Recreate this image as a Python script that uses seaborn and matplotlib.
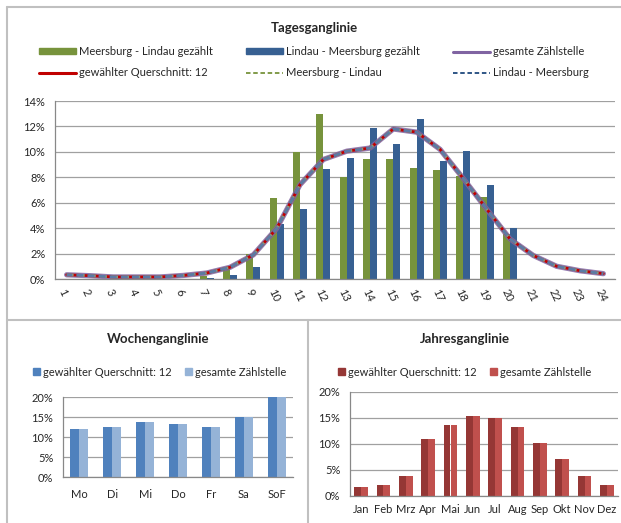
import numpy as np
import pandas as pd
import matplotlib
matplotlib.use("Agg")
import matplotlib.pyplot as plt
import seaborn as sns
from matplotlib.lines import Line2D
from matplotlib.patches import Patch

# ---------------- data ----------------
hours = [str(h) for h in range(1, 25)]
nan = np.nan
ml_counted = [nan] * 6 + [0.2, 0.87, 2.0, 6.36, 10.0, 12.95, 8.0, 9.45, 9.45,
                          8.71, 8.55, 8.08, 6.47, 3.55] + [nan] * 4
lm_counted = [nan] * 6 + [0.1, 0.34, 0.95, 4.36, 5.49, 8.63, 9.5, 11.9, 10.58,
                          12.55, 9.29, 10.03, 7.37, 4.0] + [nan] * 4
total_station = [0.33, 0.26, 0.16, 0.16, 0.16, 0.28, 0.47, 0.92, 1.9, 3.97,
                 7.42, 9.4, 10.05, 10.3, 11.8, 11.55, 10.2, 7.9, 5.5, 3.15,
                 1.85, 1.0, 0.65, 0.42]
selected_section = [0.33, 0.26, 0.16, 0.16, 0.16, 0.28, 0.47, 0.92, 1.9, 3.97,
                    7.42, 9.4, 10.05, 10.3, 11.8, 11.55, 10.2, 7.9, 5.5, 3.15,
                    1.85, 1.0, 0.65, 0.42]
ml_line = [0.33, 0.26, 0.16, 0.16, 0.16, 0.28, 0.47, 0.92, 1.9, 3.97,
           7.42, 9.4, 10.05, 10.3, 11.8, 11.55, 10.2, 7.9, 5.5, 3.15,
           1.85, 1.0, 0.65, 0.42]
lm_line = [0.33, 0.26, 0.16, 0.16, 0.16, 0.28, 0.47, 0.92, 1.9, 3.97,
           7.42, 9.4, 10.05, 10.3, 11.8, 11.55, 10.2, 7.9, 5.5, 3.15,
           1.85, 1.0, 0.65, 0.42]

weekdays = ["Mo", "Di", "Mi", "Do", "Fr", "Sa", "SoF"]
week_section = [11.9, 12.4, 13.8, 13.3, 12.4, 15.1, 20.2]
week_station = [11.9, 12.4, 13.8, 13.3, 12.4, 15.1, 20.2]

months = ["Jan", "Feb", "Mrz", "Apr", "Mai", "Jun", "Jul", "Aug", "Sep",
          "Okt", "Nov", "Dez"]
year_section = [1.7, 2.1, 3.9, 10.9, 13.6, 15.3, 15.0, 13.3, 10.2, 7.2, 3.9, 2.1]
year_station = [1.7, 2.1, 3.9, 10.9, 13.6, 15.3, 15.0, 13.3, 10.2, 7.2, 3.9, 2.1]

# ---------------- style ----------------
sns.set_theme(style="white")
plt.rcParams["font.family"] = ["Lato", "DejaVu Sans"]
plt.rcParams["font.size"] = 8

GREEN = "#77933c"
BLUE = "#376092"
PURPLE = "#8064a2"
RED = "#c00000"
GRID = "#a0a0a0"
FRAME = "#c0c0c0"

W, H = 621, 523
fig = plt.figure(figsize=(W / 100, H / 100), dpi=100)


def box(l, t, r, b):
    return [l / W, 1 - b / H, (r - l) / W, (b - t) / H]


def style_axis(ax, n, ymax, step, label_size=8):
    ax.set_xlim(-0.5, n - 0.5)
    ax.set_ylim(0, ymax)
    yt = np.arange(0, ymax + 0.01, step)
    ax.set_yticks(yt)
    ax.set_yticklabels([f"{v:.0f}%" for v in yt], fontsize=label_size)
    ax.yaxis.grid(True, color=GRID, lw=0.9)
    ax.set_axisbelow(True)
    for s in ["top", "right"]:
        ax.spines[s].set_visible(False)
    for s in ["left", "bottom"]:
        ax.spines[s].set_color("#888888")
        ax.spines[s].set_linewidth(0.9)
    ax.set_xticks(np.arange(n))
    ax.set_xticks(np.arange(-0.5, n, 1), minor=True)
    ax.tick_params(axis="x", which="major", length=0, pad=4)
    ax.tick_params(axis="x", which="minor", length=4, color="#888888", width=0.8)
    ax.tick_params(axis="y", length=4, color="#888888", width=0.8, pad=3)
    ax.set_xlabel("")
    ax.set_ylabel("")


bar_kw = dict(saturation=1, errorbar=None, legend=False, linewidth=0,
              edgecolor="none")

# ---------------- Tagesganglinie ----------------
ax1 = fig.add_axes(box(55, 101, 615, 279))
bars_day = pd.DataFrame({
    "Stunde": hours * 2,
    "Reihe": ["Meersburg - Lindau gezählt"] * 24 + ["Lindau - Meersburg gezählt"] * 24,
    "Anteil": ml_counted + lm_counted,
}).dropna()
sns.barplot(data=bars_day, x="Stunde", y="Anteil", hue="Reihe", order=hours,
            hue_order=["Meersburg - Lindau gezählt", "Lindau - Meersburg gezählt"],
            palette=[GREEN, BLUE], width=0.6, ax=ax1, **bar_kw)
pos = np.arange(len(hours))
sns.lineplot(x=pos, y=total_station, color=PURPLE, lw=3.8, alpha=0.85, ax=ax1)
sns.lineplot(x=pos, y=selected_section, color=RED, lw=2.0, ax=ax1)
sns.lineplot(x=pos, y=ml_line, color="#8a9a7a", lw=2.0, ax=ax1,
             linestyle=(0, (2.5, 1.5)))
sns.lineplot(x=pos, y=lm_line, color="#5b7aa5", lw=2.0, ax=ax1,
             linestyle=(0.5, (2.5, 1.5)))
style_axis(ax1, 24, 14, 2)
ax1.set_xticklabels(hours, rotation=-65, fontsize=8, ha="left", va="top",
                    rotation_mode="anchor")
ax1.tick_params(axis="x", which="major", pad=6)

fig.text(314 / W, 1 - 28 / H, "Tagesganglinie", ha="center", va="center",
         fontsize=9.5, fontweight="bold")
handles = [
    Patch(color=GREEN, label="Meersburg - Lindau gezählt"),
    Line2D([], [], color=RED, lw=2.2, label="gewählter Querschnitt: 12"),
    Patch(color=BLUE, label="Lindau - Meersburg gezählt"),
    Line2D([], [], color=GREEN, lw=1.3, ls=(0, (2.5, 1.5)), label="Meersburg - Lindau"),
    Line2D([], [], color=PURPLE, lw=2.2, label="gesamte Zählstelle"),
    Line2D([], [], color="#1f497d", lw=1.3, ls=(0, (2.5, 1.5)), label="Lindau - Meersburg"),
]
fig.legend(handles=handles, ncol=3, loc="center", bbox_to_anchor=(314 / W, 1 - 62 / H),
           frameon=False, fontsize=8, handlelength=3.3, handleheight=0.35,
           handletextpad=0.3, columnspacing=3.0, labelspacing=0.9)

# ---------------- Wochenganglinie ----------------
ax2 = fig.add_axes(box(63, 397, 293, 477))
week = pd.DataFrame({
    "Tag": weekdays * 2,
    "Reihe": ["gewählter Querschnitt: 12"] * 7 + ["gesamte Zählstelle"] * 7,
    "Anteil": week_section + week_station,
})
sns.barplot(data=week, x="Tag", y="Anteil", hue="Reihe", order=weekdays,
            palette=["#4f81bd", "#95b3d7"], width=0.55, ax=ax2, **bar_kw)
style_axis(ax2, 7, 20, 5)
ax2.set_xticklabels(weekdays, fontsize=8)
ax2.tick_params(axis="x", which="major", pad=9)
fig.text(158 / W, 1 - 339 / H, "Wochenganglinie", ha="center", va="center",
         fontsize=9.5, fontweight="bold")
fig.legend(handles=[Patch(color="#4f81bd", label="gewählter Querschnitt: 12"),
                    Patch(color="#95b3d7", label="gesamte Zählstelle")],
           ncol=2, loc="center", bbox_to_anchor=(160 / W, 1 - 372 / H),
           frameon=False, fontsize=8, handlelength=0.6, handleheight=0.6,
           handletextpad=0.3, columnspacing=1.2)

# ---------------- Jahresganglinie ----------------
ax3 = fig.add_axes(box(350, 392, 618, 496))
year = pd.DataFrame({
    "Monat": months * 2,
    "Reihe": ["gewählter Querschnitt: 12"] * 12 + ["gesamte Zählstelle"] * 12,
    "Anteil": year_section + year_station,
})
sns.barplot(data=year, x="Monat", y="Anteil", hue="Reihe", order=months,
            palette=["#953735", "#c0504d"], width=0.6, ax=ax3, **bar_kw)
style_axis(ax3, 12, 20, 5)
ax3.set_xticklabels(months, fontsize=8)
ax3.tick_params(axis="x", which="major", pad=6)
fig.text(465 / W, 1 - 339 / H, "Jahresganglinie", ha="center", va="center",
         fontsize=9.5, fontweight="bold")
fig.legend(handles=[Patch(color="#953735", label="gewählter Querschnitt: 12"),
                    Patch(color="#c0504d", label="gesamte Zählstelle")],
           ncol=2, loc="center", bbox_to_anchor=(465 / W, 1 - 372 / H),
           frameon=False, fontsize=8, handlelength=0.6, handleheight=0.6,
           handletextpad=0.3, columnspacing=1.2)

# ---------------- panel frames ----------------
def fline(xs, ys):
    fig.add_artist(Line2D([x / W for x in xs], [1 - y / H for y in ys],
                          color=FRAME, lw=1.5, transform=fig.transFigure))

fline([7, 621], [7, 7])
fline([7, 7], [7, 523])
fline([7, 621], [320, 320])
fline([308, 308], [320, 523])

fig.savefig("out.png", dpi=100)
